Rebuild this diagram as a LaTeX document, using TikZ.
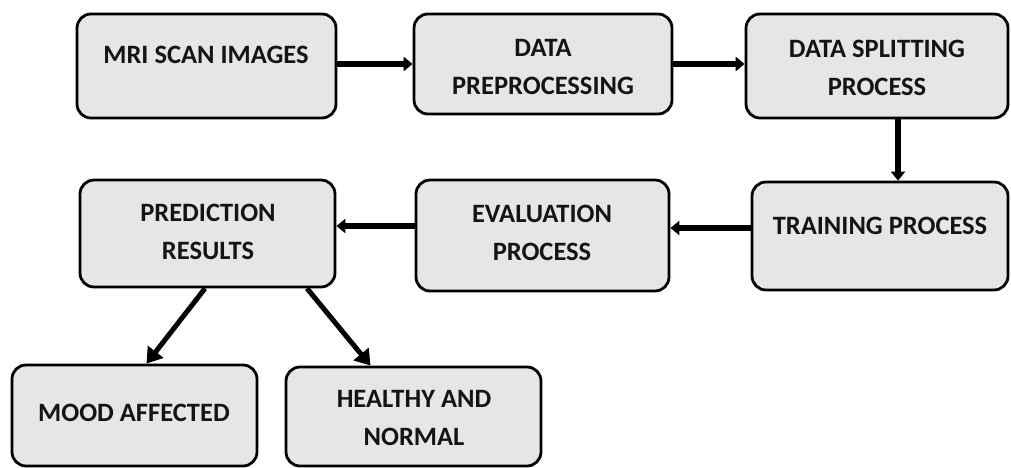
\documentclass[tikz,border=0pt]{standalone}
\usepackage{fontspec}
\setmainfont{Carlito}
\usetikzlibrary{arrows.meta}
\definecolor{boxgray}{RGB}{230,230,232}
\begin{document}
\begin{tikzpicture}[x=1pt,y=-1pt,
  box/.style={draw=black,line width=2.8pt,rounded corners=14pt,fill=boxgray,inner sep=0pt},
  lbl/.style={font=\bfseries\fontsize{26.5}{38}\selectfont,align=center,inner sep=0pt,text=black!92},
  arr/.style={line width=5.5pt,-{Triangle[length=9pt,width=14pt]}},
  darr/.style={line width=5pt,-{Triangle[length=15pt,width=19pt]}}]
\useasboundingbox (0,0) rectangle (1011,468);
% boxes
\node[box,minimum width=259pt,minimum height=104pt] (mri) at (206.5,66) {};
\node[box,minimum width=258pt,minimum height=100pt] (prep) at (543,64) {};
\node[box,minimum width=262pt,minimum height=104pt] (split) at (877,66) {};
\node[box,minimum width=256pt,minimum height=108pt] (train) at (880,236) {};
\node[box,minimum width=253pt,minimum height=111pt] (eval) at (542.5,235.5) {};
\node[box,minimum width=255pt,minimum height=107pt] (pred) at (207.5,233.5) {};
\node[box,minimum width=245pt,minimum height=101pt] (mood) at (134.5,415.5) {};
\node[box,minimum width=255pt,minimum height=99pt] (healthy) at (413.5,416.5) {};
% labels
\node[lbl] (mriT) at (206,55) {MRI SCAN IMAGES};
\node[lbl] (prepT) at (543,67) {DATA\\PREPROCESSING};
\node[lbl] (splitT) at (877,68) {DATA SPLITTING\\PROCESS};
\node[lbl] (trainT) at (880,226) {TRAINING PROCESS};
\node[lbl] (evalT) at (542,233) {EVALUATION\\PROCESS};
\node[lbl] (predT) at (208,232) {PREDICTION\\RESULTS};
\node[lbl] (moodT) at (134,413) {MOOD AFFECTED};
\node[lbl] (healthyT) at (414,418) {HEALTHY AND\\NORMAL};
% connectors
\draw[arr] (mri.east |- prep.west) -- (prep.west);
\draw[arr] (prep.east) -- (prep.east -| split.west);
\draw[arr] ([xshift=21pt]split.south) -- ([xshift=21pt]split.south |- train.north);
\draw[arr] ([yshift=8pt]train.west) -- ([yshift=8pt]train.west -| eval.east);
\draw[arr] ([yshift=9.5pt]eval.west) -- ([yshift=9.5pt]eval.west -| pred.east);
\draw[darr] ([xshift=-2.5pt]pred.south) -- ([xshift=12pt]mood.north);
\draw[darr] ([xshift=99.5pt]pred.south) -- ([xshift=-43pt]healthy.north);
\end{tikzpicture}
\end{document}
